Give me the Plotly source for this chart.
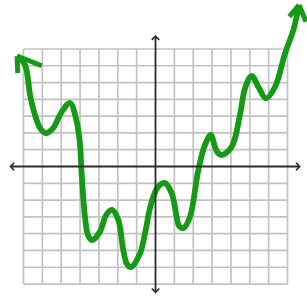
import plotly.graph_objects as go

# grid values (data units)
grid_vals = list(range(-7, 8))

# hand-drawn curve (data units)
curve_x = [-7.34, -6.92, -6.65, -6.39, -6.12, -5.81, -5.43, -4.97, -4.53, -4.18,
           -4.00, -3.92, -3.74, -3.58, -3.37, -2.94, -2.62, -2.31, -1.97, -1.71,
           -1.51, -1.30, -0.82, -0.55, -0.29, 0.03, 0.29, 0.50, 0.86, 1.12, 1.25,
           1.47, 1.83, 2.27, 2.62, 2.93, 3.15, 3.31, 3.51, 4.04, 4.48,
           4.75, 5.10, 5.45, 5.86, 6.34, 6.87, 7.31, 7.61]
curve_y = [6.58, 6.05, 4.26, 3.07, 2.29, 1.99, 2.29, 3.26, 3.78, 2.67,
           1.28, -0.39, -2.99, -4.08, -4.38, -3.88, -2.89, -2.59, -3.19, -4.97,
           -5.81, -5.99, -5.17, -3.95, -2.47, -1.40, -1.04, -0.98, -1.60, -2.99, -3.54,
           -3.68, -2.99, -0.21, 1.28, 1.88, 1.18, 0.80, 0.68, 1.18, 3.07,
           4.68, 5.39, 4.75, 4.06, 4.75, 6.74, 8.13, 9.62]

# axis extents (data units)
x_axis_ends = [-7.83, 7.71]
y_axis_ends = [-7.65, 7.83]

# style
GREEN = "#169a16"
W, H = 307, 298
X_RANGE = [-8.245, 8.033]
Y_RANGE = [-7.832, 9.917]
# hand-drawn arrowhead arms, pixel offsets from each curve tip (dx right, dy down)
start_arms_px = [(24.7, 9.7), (0.7, 17.0)]
end_arms_px = [(-9.7, 11.7), (7.0, 16.7)]

px_x = (X_RANGE[1] - X_RANGE[0]) / W
px_y = (Y_RANGE[1] - Y_RANGE[0]) / H


def arms(tx, ty, offsets):
    xs, ys = [], []
    for dx, dy in offsets:
        xs += [tx + dx * px_x, tx, None]
        ys += [ty - dy * px_y, ty, None]
    return xs, ys


fig = go.Figure()

shapes = []
for g in grid_vals:
    if g == 0:
        continue
    shapes.append(dict(type="line", xref="x", yref="y", x0=g, x1=g, y0=grid_vals[0], y1=grid_vals[-1],
                       line=dict(color="#c2c2c2", width=1.7), layer="below"))
    shapes.append(dict(type="line", xref="x", yref="y", y0=g, y1=g, x0=grid_vals[0], x1=grid_vals[-1],
                       line=dict(color="#c2c2c2", width=1.7), layer="below"))

fig.add_trace(go.Scatter(x=curve_x, y=curve_y, mode="lines",
                         line=dict(color=GREEN, width=5.8, shape="spline", smoothing=1.0),
                         hoverinfo="skip", showlegend=False))

ax_s, ay_s = arms(curve_x[0], curve_y[0], start_arms_px)
ax_e, ay_e = arms(curve_x[-1], curve_y[-1], end_arms_px)
fig.add_trace(go.Scatter(x=ax_s + ax_e, y=ay_s + ay_e, mode="lines",
                         line=dict(color=GREEN, width=5),
                         hoverinfo="skip", showlegend=False))

annotations = [
    dict(x=x_axis_ends[1], y=0, ax=x_axis_ends[0], ay=0, xref="x", yref="y", axref="x", ayref="y",
         showarrow=True, arrowhead=4, startarrowhead=4, arrowside="end+start",
         arrowwidth=1.8, arrowsize=0.8, startarrowsize=0.8, arrowcolor="#2b2b2b", text=""),
    dict(x=0, y=y_axis_ends[1], ax=0, ay=y_axis_ends[0], xref="x", yref="y", axref="x", ayref="y",
         showarrow=True, arrowhead=4, startarrowhead=4, arrowside="end+start",
         arrowwidth=1.8, arrowsize=0.8, startarrowsize=0.8, arrowcolor="#2b2b2b", text=""),
]

fig.update_layout(
    width=W, height=H,
    margin=dict(l=0, r=0, t=0, b=0),
    paper_bgcolor="white", plot_bgcolor="white",
    shapes=shapes, annotations=annotations,
    xaxis=dict(range=X_RANGE, showgrid=False, zeroline=False, showticklabels=False,
               ticks="", fixedrange=True),
    yaxis=dict(range=Y_RANGE, showgrid=False, zeroline=False, showticklabels=False,
               ticks="", fixedrange=True),
    showlegend=False,
)

fig.write_html("out.html", config={"displayModeBar": False},
               post_script="document.body.style.margin='0';document.body.style.overflow='hidden';")
